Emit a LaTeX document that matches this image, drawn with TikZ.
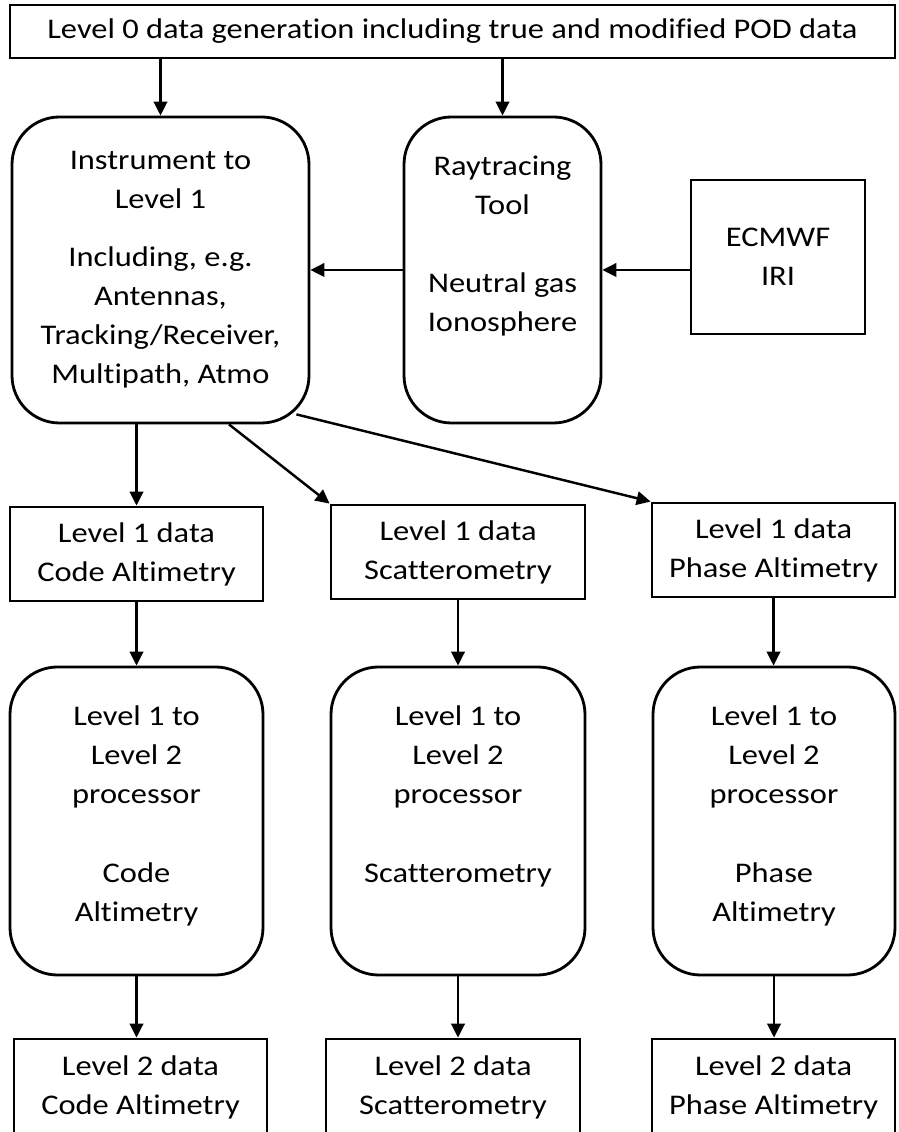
\documentclass[tikz,border=0pt]{standalone}
\usepackage{fontspec}
\setmainfont{Carlito}[FakeStretch=1.14, Ligatures=NoCommon]
\usetikzlibrary{arrows.meta}
\newcommand\diagfont{\fontsize{16.2pt}{22.2pt}\selectfont}
\tikzset{
  databox/.style={draw, line width=1.6pt, inner sep=0pt, align=center, font=\diagfont},
  procbox/.style={draw, line width=1.6pt, rounded corners=0.95cm, inner sep=0pt},
  boxtxt/.style={anchor=north, inner sep=0pt, align=center, font=\diagfont},
  flow/.style={-{Triangle[length=0.28cm,width=0.27cm]}, line width=1.4pt}
}
\begin{document}
\begin{tikzpicture}
			%%%%% START %%%%%
			\useasboundingbox (0, 0) rectangle (17.96, 22.64);
			
			\node[databox, minimum width=17.7cm, minimum height=1.06cm] (top) at (9.05, 22.01) {Level 0 data generation including true and modified POD data};
			
			\node[procbox, minimum width=5.94cm, minimum height=6.12cm] (instr) at (3.21, 17.24) {};
			\node[boxtxt] (instrtxt) at ([yshift=-0.7cm]instr.north) {Instrument to\\Level 1\\[0.38cm]Including, e.g.\\Antennas,\\Tracking/Receiver,\\Multipath, Atmo};
			
			\node[procbox, minimum width=3.94cm, minimum height=6.12cm] (ray) at (10.05, 17.24) {};
			\node[boxtxt] (raytxt) at ([yshift=-0.8cm]ray.north) {Raytracing\\Tool\\[0.78cm]Neutral gas\\Ionosphere};
			
			\node[databox, minimum width=3.48cm, minimum height=3.08cm] (ecmwf) at (15.56, 17.50) {ECMWF\\IRI};
			
			\node[databox, minimum width=5.06cm, minimum height=1.88cm] (lonecode) at (2.73, 11.56) {Level 1 data\\Code Altimetry};
			\node[databox, minimum width=5.08cm, minimum height=1.88cm] (lonescat) at (9.16, 11.60) {Level 1 data\\Scatterometry};
			\node[databox, minimum width=4.86cm, minimum height=1.88cm] (lonephase) at (15.47, 11.64) {Level 1 data\\Phase Altimetry};
			
			\node[procbox, minimum width=5.06cm, minimum height=6.16cm] (proccode) at (2.73, 6.22) {};
			\node[boxtxt] (proccodetxt) at ([yshift=-0.8cm]proccode.north) {Level 1 to\\Level 2\\processor\\[0.8cm]Code\\Altimetry};
			\node[procbox, minimum width=5.08cm, minimum height=6.16cm] (procscat) at (9.16, 6.22) {};
			\node[boxtxt] (procscattxt) at ([yshift=-0.8cm]procscat.north) {Level 1 to\\Level 2\\processor\\[0.8cm]Scatterometry};
			\node[procbox, minimum width=4.84cm, minimum height=6.16cm] (procphase) at (15.48, 6.22) {};
			\node[boxtxt] (procphasetxt) at ([yshift=-0.8cm]procphase.north) {Level 1 to\\Level 2\\processor\\[0.8cm]Phase\\Altimetry};
			
			\node[databox, minimum width=5.06cm, minimum height=1.94cm] (ltwocode) at (2.81, 0.89) {Level 2 data\\Code Altimetry};
			\node[databox, minimum width=5.08cm, minimum height=1.94cm] (ltwoscat) at (9.06, 0.89) {Level 2 data\\Scatterometry};
			\node[databox, minimum width=4.86cm, minimum height=1.94cm] (ltwophase) at (15.47, 0.89) {Level 2 data\\Phase Altimetry};
			
			\draw[flow] (instr.north |- top.south) -- (instr.north);
			\draw[flow] (ray.north |- top.south) -- (ray.north);
			\draw[flow] (ecmwf.west |- ray.east) -- (ray.east);
			\draw[flow] (ray.west) -- (instr.east);
			
			\draw[flow] (instr.south -| lonecode.north) -- (lonecode.north);
			\draw[flow] ([xshift=1.37cm]instr.south) -- (lonescat.north west);
			\draw[flow] ([xshift=-0.28cm, yshift=0.2cm]instr.south east) -- (lonephase.north west);
			
			\draw[flow] (lonecode.south) -- (lonecode.south |- proccode.north);
			\draw[flow] (lonescat.south) -- (lonescat.south |- procscat.north);
			\draw[flow] (lonephase.south) -- (lonephase.south |- procphase.north);
			
			\draw[flow] (proccode.south) -- (proccode.south |- ltwocode.north);
			\draw[flow] (procscat.south) -- (procscat.south |- ltwoscat.north);
			\draw[flow] (procphase.south) -- (procphase.south |- ltwophase.north);
			%%%%% END %%%%%
\end{tikzpicture}
\end{document}
